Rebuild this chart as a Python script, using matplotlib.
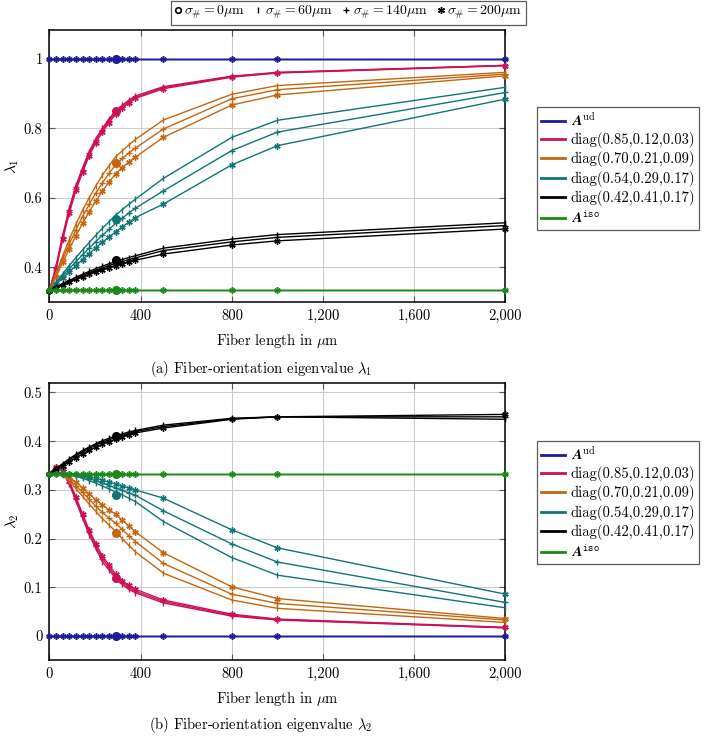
import matplotlib
matplotlib.use("Agg")
import matplotlib.pyplot as plt
from matplotlib.lines import Line2D
from matplotlib.ticker import FuncFormatter, FixedLocator

plt.rcParams['mathtext.fontset'] = 'cm'
plt.rcParams['font.family'] = ['cmr10', 'DejaVu Serif']
plt.rcParams['axes.formatter.use_mathtext'] = True
plt.rcParams['axes.unicode_minus'] = False

# ---------------- data ----------------
x = [0, 29, 58, 87, 116, 145, 174, 203, 232, 261, 290, 319, 348, 377, 500, 800, 1000, 2000]
x_circle = 290

series_labels = [r"$\mathbfit{A}^{\mathrm{ud}}$", "diag(0.85,0.12,0.03)", "diag(0.70,0.21,0.09)",
                 "diag(0.54,0.29,0.17)", "diag(0.42,0.41,0.17)", r"$\mathbfit{A}^{\mathtt{iso}}$"]
colors = ['#1c1c96', '#cc1058', '#c4660f', '#127575', '#000000', '#1a8a1a']
sigma_labels = [r"$\sigma_{\#}=0\mu\mathrm{m}$", r"$\sigma_{\#}=60\mu\mathrm{m}$",
                r"$\sigma_{\#}=140\mu\mathrm{m}$", r"$\sigma_{\#}=200\mu\mathrm{m}$"]

# lambda_1 : sigma = 0 (single point), 60, 140, 200
l1_circle = [1.0, 0.850, 0.700, 0.539, 0.420, 0.3333]

l1_ud_60  = [1.0, 1.0, 1.0, 1.0, 1.0, 1.0, 1.0, 1.0, 1.0, 1.0, 1.0, 1.0, 1.0, 1.0, 1.0, 1.0, 1.0, 1.0]
l1_ud_140 = [1.0, 1.0, 1.0, 1.0, 1.0, 1.0, 1.0, 1.0, 1.0, 1.0, 1.0, 1.0, 1.0, 1.0, 1.0, 1.0, 1.0, 1.0]
l1_ud_200 = [1.0, 1.0, 1.0, 1.0, 1.0, 1.0, 1.0, 1.0, 1.0, 1.0, 1.0, 1.0, 1.0, 1.0, 1.0, 1.0, 1.0, 1.0]

l1_r_60  = [0.333, 0.405, 0.493, 0.570, 0.636, 0.686, 0.733, 0.770, 0.800, 0.827, 0.850, 0.866, 0.881, 0.893, 0.920, 0.950, 0.961, 0.981]
l1_r_140 = [0.333, 0.400, 0.487, 0.564, 0.630, 0.680, 0.728, 0.765, 0.795, 0.822, 0.846, 0.862, 0.877, 0.889, 0.917, 0.949, 0.960, 0.981]
l1_r_200 = [0.333, 0.395, 0.480, 0.556, 0.622, 0.673, 0.721, 0.758, 0.789, 0.816, 0.840, 0.857, 0.873, 0.886, 0.914, 0.947, 0.959, 0.980]

l1_o_60  = [0.333, 0.383, 0.433, 0.480, 0.524, 0.564, 0.600, 0.634, 0.665, 0.692, 0.718, 0.735, 0.752, 0.768, 0.824, 0.898, 0.923, 0.961]
l1_o_140 = [0.333, 0.378, 0.424, 0.467, 0.508, 0.546, 0.581, 0.613, 0.643, 0.670, 0.695, 0.713, 0.729, 0.743, 0.798, 0.885, 0.911, 0.956]
l1_o_200 = [0.333, 0.373, 0.414, 0.453, 0.491, 0.526, 0.559, 0.590, 0.619, 0.645, 0.669, 0.687, 0.703, 0.717, 0.774, 0.867, 0.896, 0.951]

l1_t_60  = [0.333, 0.357, 0.381, 0.405, 0.428, 0.450, 0.471, 0.492, 0.512, 0.531, 0.550, 0.566, 0.581, 0.596, 0.656, 0.774, 0.823, 0.918]
l1_t_140 = [0.333, 0.354, 0.375, 0.396, 0.416, 0.436, 0.455, 0.474, 0.492, 0.509, 0.526, 0.541, 0.556, 0.570, 0.620, 0.736, 0.789, 0.903]
l1_t_200 = [0.333, 0.351, 0.369, 0.387, 0.405, 0.422, 0.439, 0.456, 0.472, 0.487, 0.502, 0.516, 0.530, 0.543, 0.582, 0.695, 0.750, 0.884]

l1_k_60  = [0.333, 0.343, 0.353, 0.362, 0.371, 0.380, 0.388, 0.396, 0.403, 0.410, 0.416, 0.422, 0.428, 0.433, 0.455, 0.481, 0.494, 0.528]
l1_k_140 = [0.333, 0.342, 0.351, 0.360, 0.368, 0.376, 0.384, 0.391, 0.398, 0.405, 0.411, 0.416, 0.422, 0.427, 0.448, 0.473, 0.486, 0.520]
l1_k_200 = [0.333, 0.341, 0.349, 0.357, 0.365, 0.373, 0.380, 0.387, 0.393, 0.399, 0.405, 0.410, 0.415, 0.420, 0.438, 0.464, 0.476, 0.510]

l1_iso_60  = [0.3333, 0.3333, 0.3333, 0.3333, 0.3333, 0.3333, 0.3333, 0.3333, 0.3333, 0.3333, 0.3333, 0.3333, 0.3333, 0.3333, 0.3333, 0.3333, 0.3333, 0.3333]
l1_iso_140 = [0.3333, 0.3333, 0.3333, 0.3333, 0.3333, 0.3333, 0.3333, 0.3333, 0.3333, 0.3333, 0.3333, 0.3333, 0.3333, 0.3333, 0.3333, 0.3333, 0.3333, 0.3333]
l1_iso_200 = [0.3333, 0.3333, 0.3333, 0.3333, 0.3333, 0.3333, 0.3333, 0.3333, 0.3333, 0.3333, 0.3333, 0.3333, 0.3333, 0.3333, 0.3333, 0.3333, 0.3333, 0.3333]

# lambda_2
l2_circle = [0.0, 0.120, 0.211, 0.290, 0.411, 0.3333]

l2_ud_60  = [0.0, 0.0, 0.0, 0.0, 0.0, 0.0, 0.0, 0.0, 0.0, 0.0, 0.0, 0.0, 0.0, 0.0, 0.0, 0.0, 0.0, 0.0]
l2_ud_140 = [0.0, 0.0, 0.0, 0.0, 0.0, 0.0, 0.0, 0.0, 0.0, 0.0, 0.0, 0.0, 0.0, 0.0, 0.0, 0.0, 0.0, 0.0]
l2_ud_200 = [0.0, 0.0, 0.0, 0.0, 0.0, 0.0, 0.0, 0.0, 0.0, 0.0, 0.0, 0.0, 0.0, 0.0, 0.0, 0.0, 0.0, 0.0]

l2_r_60  = [0.333, 0.348, 0.340, 0.312, 0.277, 0.242, 0.208, 0.180, 0.153, 0.136, 0.118, 0.106, 0.096, 0.089, 0.068, 0.041, 0.033, 0.017]
l2_r_140 = [0.333, 0.348, 0.341, 0.315, 0.281, 0.246, 0.213, 0.185, 0.159, 0.141, 0.122, 0.110, 0.100, 0.092, 0.071, 0.043, 0.034, 0.017]
l2_r_200 = [0.333, 0.347, 0.342, 0.318, 0.285, 0.251, 0.218, 0.190, 0.164, 0.146, 0.127, 0.114, 0.104, 0.096, 0.074, 0.045, 0.035, 0.018]

l2_o_60  = [0.333, 0.336, 0.330, 0.318, 0.303, 0.287, 0.271, 0.256, 0.241, 0.228, 0.215, 0.200, 0.186, 0.173, 0.129, 0.074, 0.057, 0.028]
l2_o_140 = [0.333, 0.336, 0.332, 0.322, 0.309, 0.295, 0.281, 0.267, 0.254, 0.242, 0.232, 0.219, 0.206, 0.194, 0.149, 0.086, 0.067, 0.033]
l2_o_200 = [0.333, 0.336, 0.333, 0.326, 0.316, 0.304, 0.292, 0.280, 0.269, 0.259, 0.250, 0.238, 0.226, 0.214, 0.171, 0.101, 0.077, 0.036]

l2_t_60  = [0.333, 0.334, 0.333, 0.331, 0.328, 0.324, 0.319, 0.314, 0.308, 0.302, 0.296, 0.290, 0.283, 0.276, 0.235, 0.161, 0.125, 0.058]
l2_t_140 = [0.333, 0.334, 0.333, 0.332, 0.330, 0.327, 0.323, 0.319, 0.314, 0.309, 0.304, 0.299, 0.294, 0.289, 0.257, 0.189, 0.152, 0.069]
l2_t_200 = [0.333, 0.334, 0.334, 0.333, 0.332, 0.330, 0.327, 0.324, 0.320, 0.316, 0.312, 0.308, 0.304, 0.300, 0.283, 0.218, 0.181, 0.086]

l2_k_60  = [0.333, 0.344, 0.354, 0.364, 0.373, 0.381, 0.388, 0.395, 0.401, 0.406, 0.411, 0.415, 0.419, 0.422, 0.433, 0.447, 0.450, 0.445]
l2_k_140 = [0.333, 0.343, 0.352, 0.361, 0.370, 0.378, 0.385, 0.392, 0.398, 0.403, 0.408, 0.412, 0.416, 0.420, 0.430, 0.446, 0.450, 0.450]
l2_k_200 = [0.333, 0.342, 0.350, 0.358, 0.366, 0.374, 0.381, 0.388, 0.394, 0.399, 0.404, 0.409, 0.413, 0.417, 0.427, 0.445, 0.450, 0.455]

l2_iso_60  = l1_iso_60
l2_iso_140 = l1_iso_140
l2_iso_200 = l1_iso_200

lam1 = [(l1_ud_60, l1_ud_140, l1_ud_200), (l1_r_60, l1_r_140, l1_r_200),
        (l1_o_60, l1_o_140, l1_o_200), (l1_t_60, l1_t_140, l1_t_200),
        (l1_k_60, l1_k_140, l1_k_200), (l1_iso_60, l1_iso_140, l1_iso_200)]
lam2 = [(l2_ud_60, l2_ud_140, l2_ud_200), (l2_r_60, l2_r_140, l2_r_200),
        (l2_o_60, l2_o_140, l2_o_200), (l2_t_60, l2_t_140, l2_t_200),
        (l2_k_60, l2_k_140, l2_k_200), (l2_iso_60, l2_iso_140, l2_iso_200)]

# ---------------- plotting ----------------
asterisk = (6, 2, 0)
sigma_markers = ['|', '+', asterisk]
sigma_ms = [4.5, 4.5, 4.5]

fig = plt.figure(figsize=(7.04, 7.36), dpi=100)
ax1 = fig.add_axes([0.0703, 0.5897, 0.6477, 0.3696])
ax2 = fig.add_axes([0.0703, 0.1033, 0.6477, 0.3767])


def draw(ax, data, circ, ylim, yticks, yticklabels, ylabel, legend_top):
    for ci, (c, triple) in enumerate(zip(colors, data)):
        for si, ys in enumerate(triple):
            ax.plot(x, ys, color=c, lw=1.0, marker=sigma_markers[si], ms=sigma_ms[si],
                    mew=1.0, clip_on=False, zorder=3)
        ax.plot([x_circle], [circ[ci]], color=c, marker='o', ms=5.5, ls='none', zorder=4)
    ax.set_xlim(0, 2000)
    ax.set_ylim(*ylim)
    ax.xaxis.set_major_locator(FixedLocator([0, 400, 800, 1200, 1600, 2000]))
    ax.xaxis.set_major_formatter(FuncFormatter(lambda v, p: f"{v:,.0f}"))
    ax.set_yticks(yticks)
    ax.set_yticklabels(yticklabels)
    ax.grid(True, color='#cccccc', lw=0.8)
    ax.set_axisbelow(True)
    ax.tick_params(direction='in', top=True, right=True, length=4, width=0.8,
                   labelsize=10.5, color='#555555', pad=5)
    for s in ax.spines.values():
        s.set_linewidth(1.1)
    ax.set_xlabel(r"Fiber length in $\mu$m", fontsize=10.5, labelpad=5.8)
    ax.set_ylabel(ylabel, fontsize=11, labelpad=2)
    handles = [Line2D([], [], color=c, lw=2.0) for c in colors]
    leg = ax.legend(handles, series_labels, loc='upper left', bbox_to_anchor=(1.069, legend_top),
                    borderaxespad=0, fontsize=10.5, frameon=True, fancybox=False,
                    edgecolor='#333333', handlelength=1.65, handletextpad=0.4,
                    labelspacing=0.22, borderpad=0.28)
    leg.get_frame().set_linewidth(0.9)


draw(ax1, lam1, l1_circle, (0.3, 1.083), [0.4, 0.6, 0.8, 1.0], ["0.4", "0.6", "0.8", "1"],
     r"$\lambda_1$", 0.717)
draw(ax2, lam2, l2_circle, (-0.049, 0.52), [0, 0.1, 0.2, 0.3, 0.4, 0.5],
     ["0", "0.1", "0.2", "0.3", "0.4", "0.5"], r"$\lambda_2$", 0.79)

fig.text(0.371, 1 - 369 / 736, r"(a) Fiber-orientation eigenvalue $\lambda_1$", ha='center',
         va='center', fontsize=10.5)
fig.text(0.371, 1 - 725 / 736, r"(b) Fiber-orientation eigenvalue $\lambda_2$", ha='center',
         va='center', fontsize=10.5)

top_handles = [Line2D([], [], color='black', marker='o', ms=4, mfc='none', mew=1.2, ls='none'),
               Line2D([], [], color='black', marker='|', ms=5, mew=1.0, ls='none'),
               Line2D([], [], color='black', marker='+', ms=5, mew=1.0, ls='none'),
               Line2D([], [], color='black', marker=asterisk, ms=5, mew=1.0, ls='none')]
tl = fig.legend(top_handles, sigma_labels, loc='upper center', bbox_to_anchor=(0.495, 0.999),
                ncol=4, fontsize=10, frameon=True, fancybox=False, edgecolor='#333333',
                handlelength=0.45, handletextpad=0.25, columnspacing=0.7, borderpad=0.25,
                borderaxespad=0)
tl.get_frame().set_linewidth(0.9)

fig.savefig("out.png", dpi=100)
